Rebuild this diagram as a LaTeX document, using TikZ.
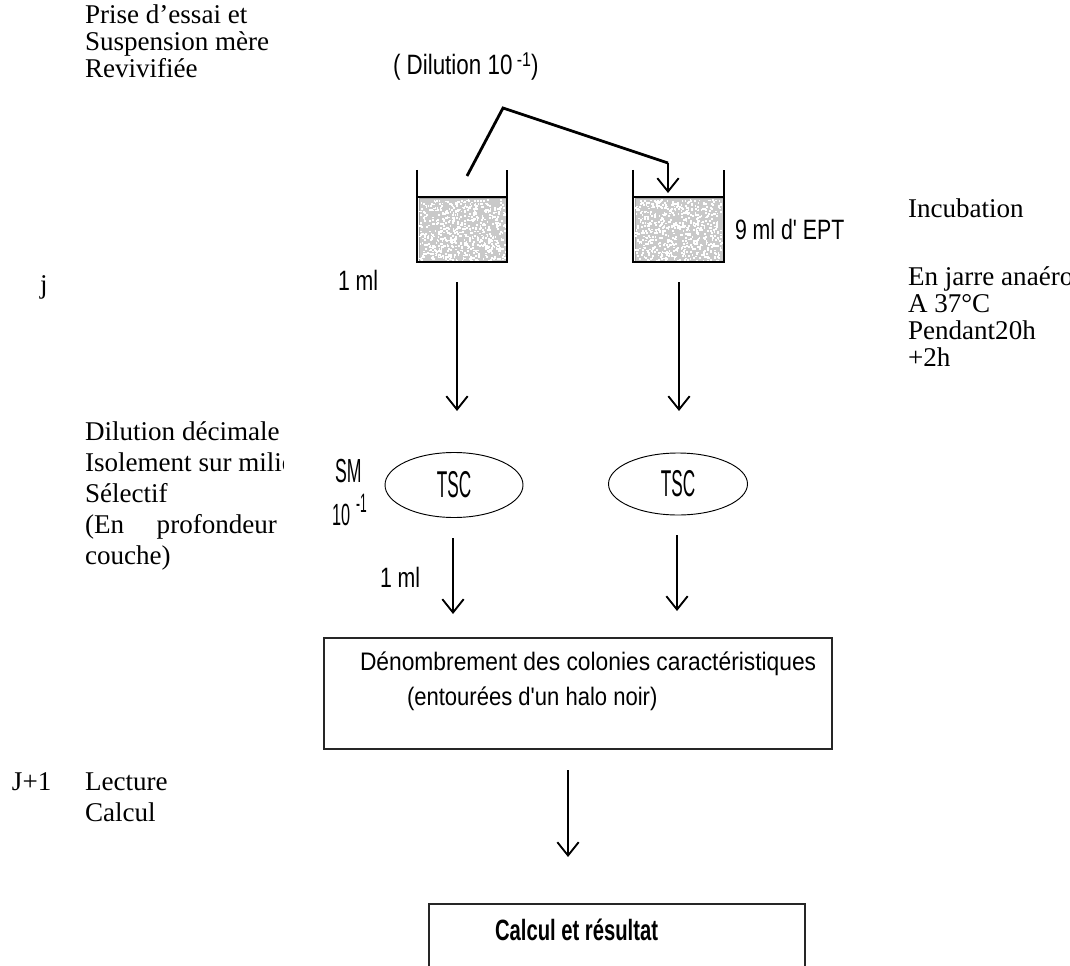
\documentclass[tikz,border=0pt]{standalone}
\usepackage{fontspec}
\usepackage{graphicx}
\setmainfont{Liberation Serif}
\newfontfamily\agency{Liberation Sans}
\usetikzlibrary{arrows.meta,shapes.geometric}
\newcommand\ag[3]{{\agency\fontsize{#1}{#1}\selectfont\scalebox{#2}[1]{#3}}}
\newcommand\agb[3]{{\agency\bfseries\fontsize{#1}{#1}\selectfont\scalebox{#2}[1]{#3}}}
\newcommand\sr{\fontsize{20.3}{20.3}\selectfont}
\tikzset{
  txt/.style={inner sep=0pt, outer sep=0pt, anchor=base west},
  arr/.style={line width=2.1pt, -{Straight Barb[length=10pt,width=16pt,line width=1.4pt]}},
  wall/.style={line width=0.9pt},
  liquid/.style={fill=gray!42, draw=gray!70, line width=0.6pt, inner sep=0pt, anchor=north west,
                 minimum width=66pt, minimum height=47.25pt},
  tscell/.style={draw, ellipse, line width=0.7pt, inner sep=0pt},
  frame/.style={draw=black!85, line width=1.2pt, inner sep=0pt, anchor=north west},
}
\begin{document}
\begin{tikzpicture}[x=0.75pt,y=-0.75pt]
\useasboundingbox (0,0) rectangle (1070,966);
\clip (0,0) rectangle (1070,966);

% left texts (serif)
\node[txt] (t1) at (85,24) {\sr Prise d’essai et};
\node[txt] (t2) at (85,51) {\sr Suspension mère};
\node[txt] (t3) at (85,78) {\sr Revivifiée};
\node[txt] (tj) at (40,293) {\sr j};
\begin{scope}
\clip (0,400) rectangle (283,600);
\node[txt] (d1) at (85,440) {\sr Dilution décimale};
\node[txt] (d2) at (85,471) {\sr Isolement sur milieu};
\node[txt] (d3) at (85,502) {\sr Sélectif};
\node[txt] (d4) at (85,533) {\sr\makebox[144pt][s]{(En\hfill profondeur}};
\node[txt] (d5) at (85,564) {\sr couche)};
\end{scope}
\node[txt] (j1) at (12,790) {\sr J+1};
\node[txt] (l1) at (85,790) {\sr Lecture};
\node[txt] (l2) at (85,821) {\sr Calcul};

% right texts (serif)
\node[txt] (i1) at (908,218) {\sr Incubation};
\node[txt] (i2) at (908,285) {\sr En jarre anaérobie};
\node[txt] (i3) at (908,312) {\sr A 37°C};
\node[txt] (i4) at (908,339) {\sr Pendant20h};
\node[txt] (i5) at (908,366) {\sr +2h};

% dilution label
\node[txt] (dil) at (393,75) {\ag{21}{0.8}{( Dilution 10\hspace{4pt}\raisebox{6pt}{\fontsize{15}{15}\selectfont -1})}};

% beakers
\node[liquid] (liq1) at (418.5,198.5) {};
\node[liquid] (liq2) at (634.5,198.5) {};
\pgfmathsetseed{7}
\foreach \i in {1,...,650} {
  \pgfmathsetmacro\rx{419+rnd*86}
  \pgfmathsetmacro\ry{199+rnd*61}
  \fill[white] (\rx,\ry) rectangle ++(1.8,1.8);
  \pgfmathsetmacro\sx{635+rnd*86}
  \pgfmathsetmacro\sy{199+rnd*61}
  \fill[white] (\sx,\sy) rectangle ++(1.8,1.8);
}
\draw[wall] (417,170) -- (417,262) -- (507,262) -- (507,170);
\draw[wall] (417,197) -- (507,197);
\draw[wall] (633,170) -- (633,262) -- (724,262) -- (724,170);
\draw[wall] (633,197) -- (724,197);

\node[txt] (ept) at (735,240) {\ag{21}{0.76}{9 ml d' EPT}};

% transfer line
\coordinate (p0) at (467,176);
\coordinate (p1) at (503,108);
\coordinate (p2) at (668,163);
\coordinate (p3) at (668,193);
\draw[line width=2.1pt, line join=miter] (p0) -- (p1) -- (p2);
\draw[arr] (p2) -- (p3);

% first arrows
\coordinate (a1s) at (457,282); \coordinate (a1e) at (457,411);
\coordinate (a2s) at (679,282); \coordinate (a2e) at (679,411);
\draw[arr] (a1s) -- (a1e);
\draw[arr] (a2s) -- (a2e);
\node[txt] (ml1) at (338,291) {\ag{21}{0.76}{1 ml}};

% ellipses
\node[tscell, minimum width=103.5pt, minimum height=48.75pt] (tsc1) at (454,485) {\ag{28}{0.46}{TSC}};
\node[tscell, minimum width=104.25pt, minimum height=46.5pt] (tsc2) at (678,484) {\ag{28}{0.46}{TSC}};
\node[txt] (sm) at (335,482) {\ag{25}{0.53}{SM}};
\node[txt] (sm10) at (332,525) {\ag{23}{0.53}{10}};
\node[txt] (smexp) at (356,512) {\ag{20}{0.45}{-1}};

% second arrows
\coordinate (b1s) at (453,538); \coordinate (b1e) at (453,614);
\coordinate (b2s) at (677,535); \coordinate (b2e) at (677,611);
\draw[arr] (b1s) -- (b1e);
\draw[arr] (b2s) -- (b2e);
\node[txt] (ml2) at (380,587) {\ag{21}{0.76}{1 ml}};

% counting box
\node[frame, minimum width=381pt, minimum height=83.25pt] (box1) at (323,637) {};
\node[txt] (c1) at (360,670) {\ag{19}{0.9}{Dénombrement des colonies caractéristiques}};
\node[txt] (c2) at (407,705) {\ag{19}{0.87}{(entourées d'un halo noir)}};

% last arrow
\coordinate (c3s) at (568,770); \coordinate (c3e) at (568,857);
\draw[arr] (c3s) -- (c3e);

% result box
\node[frame, minimum width=282pt, minimum height=75pt] (box2) at (428,903) {};
\node[txt] (res) at (495,940) {\agb{22}{0.69}{Calcul et résultat}};
\end{tikzpicture}
\end{document}
